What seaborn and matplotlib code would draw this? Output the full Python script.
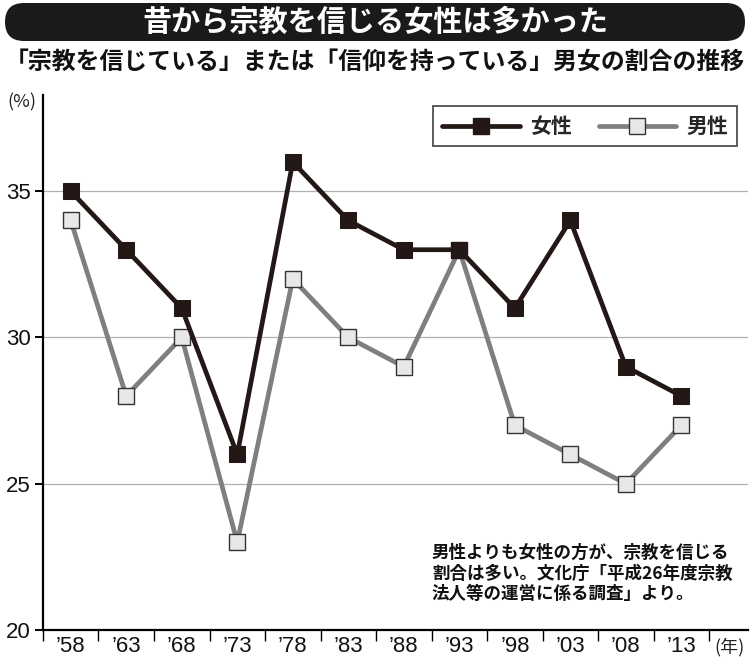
import matplotlib
matplotlib.use('Agg')
import matplotlib.pyplot as plt
import matplotlib.transforms as mtransforms
from matplotlib.patches import FancyBboxPatch
from matplotlib.lines import Line2D
import numpy as np
import pandas as pd
import seaborn as sns

# Dados
anos = ['’58', '’63', '’68', '’73', '’78', '’83', '’88', '’93', '’98', '’03', '’08', '’13']
mulheres = [35, 33, 31, 26, 36, 34, 33, 33, 31, 34, 29, 28]
homens = [34, 28, 30, 23, 32, 30, 29, 33, 27, 26, 25, 27]
y_ticks = [20, 25, 30, 35]

titulo = '昔から宗教を信じる女性は多かった'
subtitulo = '「宗教を信じている」または「信仰を持っている」男女の割合の推移'
nota = '男性よりも女性の方が、宗教を信じる\n割合は多い。文化庁「平成26年度宗教\n法人等の運営に係る調査」より。'

df = pd.DataFrame({'ano': anos, '女性': mulheres, '男性': homens})

sns.set_theme(style='white')
plt.rcParams['font.family'] = ['Noto Sans CJK JP', 'DejaVu Sans']

cor_mulher = '#231815'
cor_homem = '#7f7f7f'

fig = plt.figure(figsize=(7.5, 6.6), dpi=100)
ax = fig.add_axes([0.0573, 0.0455, 0.94, 0.811])

ax.yaxis.grid(True, color='#b0b0b0', linewidth=0.9)
ax.set_axisbelow(True)

sns.lineplot(data=df, x='ano', y='男性', ax=ax, color=cor_homem, linewidth=3.4,
             marker='s', markersize=11, markerfacecolor='#e8e8e8',
             markeredgecolor='#333333', markeredgewidth=1.0, sort=False)
sns.lineplot(data=df, x='ano', y='女性', ax=ax, color=cor_mulher, linewidth=3.4,
             marker='s', markersize=11.5, markerfacecolor=cor_mulher,
             markeredgecolor=cor_mulher, sort=False)

ax.set_xlim(-0.49, 12.2)
ax.set_ylim(20, 38.3)
ax.set_yticks(y_ticks)
ax.set(xlabel='', ylabel='')

# Eixos
for lado in ['top', 'right']:
    ax.spines[lado].set_visible(False)
for lado in ['left', 'bottom']:
    ax.spines[lado].set_color('black')
    ax.spines[lado].set_linewidth(1.6)

ax.tick_params(axis='x', which='major', length=0, pad=4)
ax.set_xticks(np.arange(-0.5, 12, 1.0), minor=True)
ax.tick_params(axis='x', which='minor', length=8, width=1.0, color='black', direction='out', bottom=True)
ax.tick_params(axis='y', length=6, width=1.4, color='black', direction='out', left=True, pad=3)
for lab in ax.get_xticklabels() + ax.get_yticklabels():
    lab.set_fontfamily(['Liberation Sans', 'DejaVu Sans'])
    lab.set_fontsize(16)
    lab.set_color('#111111')

# Legenda
handles = [
    Line2D([], [], color=cor_mulher, linewidth=3.4, marker='s', markersize=11.5,
           markerfacecolor=cor_mulher, markeredgecolor=cor_mulher),
    Line2D([], [], color=cor_homem, linewidth=3.4, marker='s', markersize=11,
           markerfacecolor='#e8e8e8', markeredgecolor='#333333'),
]
leg = ax.legend(handles, ['女性', '男性'], ncol=2, loc='upper right',
                bbox_to_anchor=(0.985, 0.978), borderaxespad=0, frameon=True,
                fancybox=False, handlelength=3.7, handletextpad=0.5,
                columnspacing=1.3, borderpad=0.45, prop={'size': 15, 'weight': 'bold'})
leg.get_frame().set_edgecolor('#222222')
leg.get_frame().set_linewidth(1.3)

# Textos auxiliares
fig.text(0.029, 0.845, '(%)', fontsize=13, ha='center', va='center', color='#222222')
fig.text(0.972, 0.02, '(年)', fontsize=13, ha='center', va='center', color='#222222')
fig.text(0.576, 0.176, nota, fontsize=12.6, fontweight='bold', ha='left', va='top',
         linespacing=1.2, color='#111111')

# Faixa do título
faixa = FancyBboxPatch((5, 619), 740, 38, boxstyle='round,pad=0,rounding_size=19',
                       transform=mtransforms.IdentityTransform(),
                       facecolor='#1a1a1a', edgecolor='none')
fig.patches.append(faixa)
fig.text(0.5, 0.967, titulo, fontsize=21, fontweight='bold', color='white',
         ha='center', va='center')
fig.text(0.5, 0.906, subtitulo, fontsize=17.2, fontweight='bold', color='#111111',
         ha='center', va='center')

fig.savefig('out.png', dpi=100)
